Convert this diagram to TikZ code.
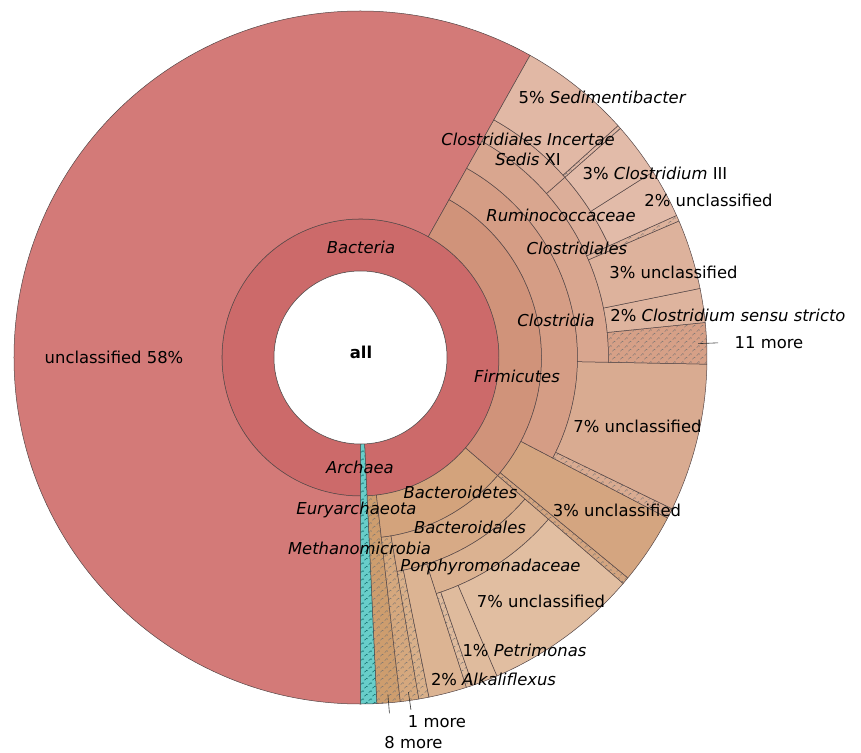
\documentclass[tikz,border=0pt]{standalone}
\usepackage{fontspec}
\setmainfont{DejaVu Sans}
\usetikzlibrary{patterns,patterns.meta}
\definecolor{edge}{RGB}{85,70,70}
\definecolor{cBac}{RGB}{204,106,106}
\definecolor{cUnc}{RGB}{211,122,120}
\definecolor{cArc}{RGB}{104,205,201}
\definecolor{cFir}{RGB}{208,147,122}
\definecolor{cCla}{RGB}{213,157,133}
\definecolor{cCls}{RGB}{217,166,143}
\definecolor{cRum}{RGB}{220,174,153}
\definecolor{cSed}{RGB}{225,184,165}
\definecolor{cCIII}{RGB}{226,187,169}
\definecolor{cRuU}{RGB}{226,187,169}
\definecolor{cClU}{RGB}{221,178,156}
\definecolor{cCss}{RGB}{222,180,158}
\definecolor{cMor}{RGB}{214,160,135}
\definecolor{cCaU}{RGB}{217,171,145}
\definecolor{cFiU}{RGB}{212,165,128}
\definecolor{cBtd}{RGB}{211,163,124}
\definecolor{cBls}{RGB}{215,170,134}
\definecolor{cPor}{RGB}{219,178,145}
\definecolor{cPoU}{RGB}{225,190,161}
\definecolor{cPet}{RGB}{223,187,157}
\definecolor{cAlk}{RGB}{220,180,147}
\definecolor{cEig}{RGB}{205,157,110}
\definecolor{cOne}{RGB}{213,168,126}
\definecolor{cBlh}{RGB}{217,176,138}
\tikzdeclarepattern{
  name=khatch, type=uncolored,
  bottom left={(0pt,0pt)}, top right={(8pt,8pt)}, tile size={(8pt,8pt)},
  code={
    \draw[line width=0.4pt] (0.8pt,4.8pt) -- (3.2pt,7.2pt) -- (4.2pt,6.2pt);
    \draw[line width=0.4pt] (4.8pt,0.8pt) -- (7.2pt,3.2pt) -- (8.2pt,2.2pt);
  }
}
\newcommand\kfont{\fontsize{16.4}{20}\selectfont}
\newcommand\kw[5]{\path[#1] (#2:#4) arc[start angle=#2, end angle=#3, radius=#4] -- (#3:#5) arc[start angle=#3, end angle=#2, radius=#5] -- cycle;}
\tikzset{
  seg/.style={fill=#1, draw=edge, line width=0.5pt},
  hseg/.style={fill=#1, draw=edge, line width=0.5pt, postaction={pattern=khatch, pattern color=black!55}},
  cseg/.style={fill=#1, draw=edge, line width=0.5pt, postaction={pattern=khatch, pattern color=teal!70!black}},
  lbl/.style={font=\kfont\itshape, text=black, inner sep=0pt},
  txt/.style={font=\kfont, text=black, inner sep=0pt},
  leader/.style={draw=black!80, line width=0.6pt},
}
\def\rA{86.5pt}
\def\rB{138.5pt}
\def\rC{181pt}
\def\rD{217pt}
\def\rE{248pt}
\def\rF{272.5pt}
\def\rR{346.5pt}
\begin{document}
\begin{tikzpicture}
\useasboundingbox (-360.5pt,-394.5pt) rectangle (500.5pt,357.5pt);
% ring 1
\kw{seg=cBac}{-87.3}{270}{\rA}{\rB}
\kw{seg=cUnc}{60.7}{270}{\rB}{\rR}
% Bacteroidetes side
\kw{hseg=cEig}{-87.3}{-83.4}{\rB}{\rR}
\kw{seg=cBtd}{-83.4}{-40.7}{\rB}{\rC}
\kw{hseg=cOne}{-83.4}{-80.3}{\rC}{\rR}
\kw{seg=cBls}{-80.3}{-40.7}{\rC}{\rD}
\kw{hseg=cBlh}{-80.3}{-78.6}{\rD}{\rR}
\kw{seg=cAlk}{-78.6}{-72.2}{\rD}{\rR}
\kw{seg=cPor}{-72.2}{-40.7}{\rD}{\rE}
\kw{hseg=cPet}{-72.2}{-71.1}{\rE}{\rR}
\kw{seg=cPet}{-71.1}{-66.8}{\rE}{\rR}
\kw{seg=cPoU}{-66.8}{-40.7}{\rE}{\rR}
% Firmicutes side
\kw{seg=cFir}{-40.7}{60.7}{\rB}{\rC}
\kw{hseg=cFiU}{-40.7}{-39.5}{\rC}{\rR}
\kw{seg=cFiU}{-39.5}{-27.6}{\rC}{\rR}
\kw{seg=cCla}{-27.6}{60.7}{\rC}{\rD}
\kw{hseg=cCaU}{-27.6}{-25.9}{\rD}{\rR}
\kw{seg=cCaU}{-25.9}{-1.1}{\rD}{\rR}
\kw{seg=cCls}{-1.1}{60.7}{\rD}{\rE}
\kw{hseg=cMor}{-1.1}{5.8}{\rE}{\rR}
\kw{seg=cCss}{5.8}{11.5}{\rE}{\rR}
\kw{seg=cClU}{11.5}{23.2}{\rE}{\rR}
\kw{hseg=cClU}{23.2}{24.2}{\rE}{\rR}
\kw{seg=cRum}{24.2}{41.4}{\rE}{\rF}
\kw{seg=cRuU}{24.2}{32.4}{\rF}{\rR}
\kw{seg=cCIII}{32.4}{41.4}{\rF}{\rR}
\kw{seg=cRum}{41.4}{60.7}{\rE}{\rF}
\kw{hseg=cSed}{41.4}{42.0}{\rF}{\rR}
\kw{seg=cSed}{42.0}{60.7}{\rF}{\rR}
% Archaea
\kw{cseg=cArc}{-90}{-87.3}{\rA}{\rR}
% hole
\path[fill=white, draw=edge, line width=0.5pt] (0,0) circle[radius=\rA];
% labels
\node[txt, font=\kfont\bfseries] (tall) at (0.5pt,5.5pt) {all};
\node[lbl] (tbac) at (0.5pt,110.5pt) {Bacteria};
\node[lbl] (tarc) at (-0.5pt,-109.5pt) {Archaea};
\node[txt] (tunc) at (-246.5pt,0.5pt) {unclassified 58\%};
\node[lbl] (tfir) at (156.5pt,-18.5pt) {Firmicutes};
\node[lbl] (tcla) at (195.5pt,37.5pt) {Clostridia};
\node[lbl] (tcls) at (216.5pt,109.5pt) {Clostridiales};
\node[lbl] (trum) at (200.5pt,142.5pt) {Ruminococcaceae};
\node[txt, align=center] (tcis) at (167.5pt,208.5pt) {\textit{Clostridiales Incertae}\\\textit{Sedis} XI};
\node[txt] (tsed) at (242pt,260.5pt) {5\% \textit{Sedimentibacter}};
\node[txt] (tc3) at (294.5pt,184.5pt) {3\% \textit{Clostridium} III};
\node[txt] (tru2) at (348pt,157.5pt) {2\% unclassified};
\node[txt] (tcl3) at (313pt,85.5pt) {3\% unclassified};
\node[txt] (tcss) at (367.5pt,42.5pt) {2\% \textit{Clostridium sensu stricto}};
\node[txt] (t11) at (408.5pt,14.5pt) {11 more};
\node[txt] (tca7) at (277pt,-68.5pt) {7\% unclassified};
\node[txt] (tfi3) at (256.5pt,-152.5pt) {3\% unclassified};
\node[lbl] (tbtd) at (100pt,-134.5pt) {Bacteroidetes};
\node[lbl] (teur) at (-4pt,-152.5pt) {Euryarchaeota};
\node[lbl] (tbls) at (109.5pt,-169.5pt) {Bacteroidales};
\node[lbl] (tmet) at (-1pt,-190.5pt) {Methanomicrobia};
\node[lbl] (tpor) at (130pt,-209.5pt) {Porphyromonadaceae};
\node[txt] (tpo7) at (180.5pt,-243.5pt) {7\% unclassified};
\node[txt] (tpet) at (164pt,-292.5pt) {1\% \textit{Petrimonas}};
\node[txt] (talk) at (133pt,-321.5pt) {2\% \textit{Alkaliflexus}};
\node[txt] (t1m) at (76.5pt,-364.5pt) {1 more};
\node[txt] (t8m) at (53pt,-385.5pt) {8 more};
% leaders
\coordinate (l11a) at (2.35:338pt);
\coordinate (l11b) at (2.35:358pt);
\coordinate (l1a) at (-81.85:338pt);
\coordinate (l1b) at (-81.85:356pt);
\coordinate (l8a) at (-85.35:338pt);
\coordinate (l8b) at (-85.35:357pt);
\draw[leader] (l11a) -- (l11b);
\draw[leader] (l1a) -- (l1b);
\draw[leader] (l8a) -- (l8b);
\end{tikzpicture}
\end{document}
